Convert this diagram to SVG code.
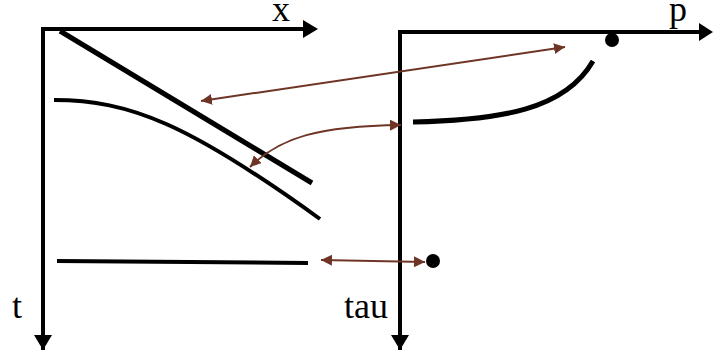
<svg xmlns="http://www.w3.org/2000/svg" width="713" height="358" viewBox="0 0 713 358">
<style>
.axis{stroke:#000;stroke-width:4;fill:none}
.curve{stroke:#000;fill:none;stroke-linecap:butt}
.conn{stroke:#6E3526;stroke-width:2;fill:none}
.lbl{font-family:"Liberation Serif","Times New Roman",serif;font-size:36px;fill:#000}
</style>
<defs>
<marker id="ah" viewBox="0 0 10 10" refX="10" refY="5" markerWidth="11" markerHeight="11" markerUnits="userSpaceOnUse" orient="auto-start-reverse">
<path d="M0,0 L10,5 L0,10 z" fill="#6E3526"/>
</marker>
</defs>
<rect width="713" height="358" fill="#fff"/>
<g id="left-axes">
<path class="axis" d="M43,350 V29 H304"/>
<path d="M303,20 L318,29 L303,38 z" fill="#000"/>
<path d="M34,335 L43,350 L52,335 z" fill="#000"/>
<text class="lbl" x="272" y="21">x</text>
<text class="lbl" x="12" y="318">t</text>
</g>
<g id="right-axes">
<path class="axis" d="M400,350 V32 H700"/>
<path d="M699,23 L713,32 L699,41 z" fill="#000"/>
<path d="M391,335 L400,350 L409,335 z" fill="#000"/>
<text class="lbl" x="669" y="21">p</text>
<text class="lbl" x="344" y="318">tau</text>
</g>
<g id="left-curves">
<path class="curve" stroke-width="5" d="M60,31 L312,183"/>
<path class="curve" stroke-width="4" d="M54,100 C130,100 190,125 320,219"/>
<path class="curve" stroke-width="4" d="M57,261 L308,263"/>
</g>
<g id="right-curves">
<path class="curve" stroke-width="5" d="M413,122 C500,120 565,110 593,61"/>
<circle cx="612" cy="40" r="7" fill="#000"/>
<circle cx="433" cy="261" r="7" fill="#000"/>
</g>
<g id="connectors">
<path class="conn" marker-start="url(#ah)" marker-end="url(#ah)" d="M201,101 L565,47"/>
<path class="conn" marker-start="url(#ah)" marker-end="url(#ah)" d="M250,167 C280,137 320,126 401,125"/>
<path class="conn" marker-start="url(#ah)" marker-end="url(#ah)" d="M321,260 L425,262"/>
</g>
</svg>
